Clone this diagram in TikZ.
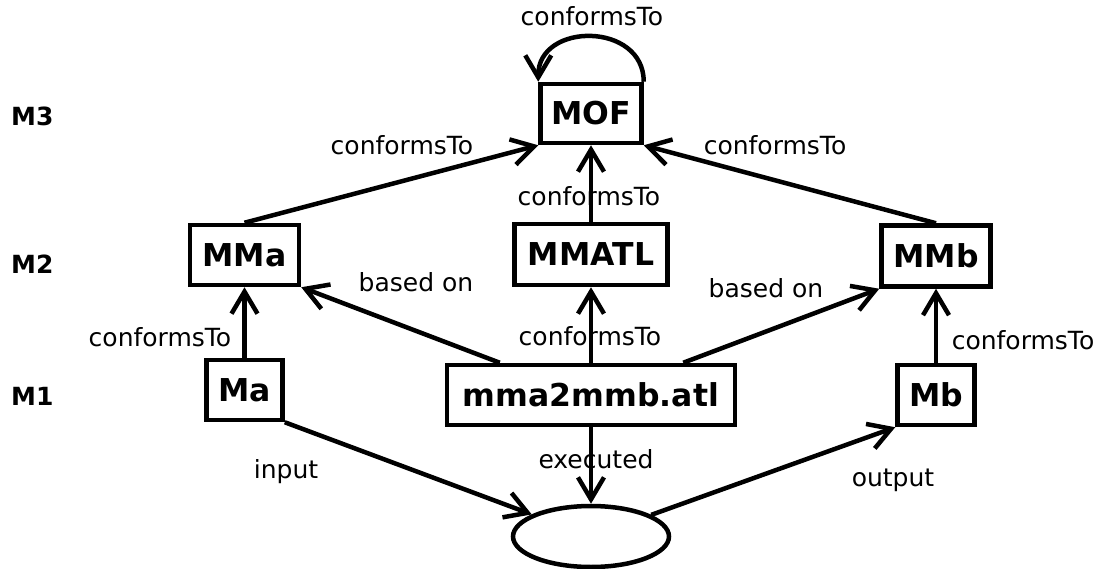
\documentclass[tikz,border=0pt]{standalone}
\usepackage{fontspec}
\setmainfont{DejaVu Sans}
\usetikzlibrary{arrows.meta,shapes.geometric}
\begin{document}
\begin{tikzpicture}[x=1pt,y=-1pt,
  box/.style={draw,line width=4.5pt,inner sep=0pt,font=\fontsize{31.5}{36}\selectfont\bfseries},
  ell/.style={draw,ellipse,line width=4.5pt,inner sep=0pt},
  lbl/.style={anchor=base,inner sep=0pt,font=\fontsize{25}{30}\selectfont},
  lvl/.style={anchor=base west,inner sep=0pt,font=\fontsize{25}{30}\selectfont\bfseries},
  arr/.style={line width=4.5pt,-{Straight Barb[length=22pt,width=26pt]}}]
\useasboundingbox (0,0) rectangle (1105,569);

% level labels
\node[lvl] (m3) at (11,126) {M3};
\node[lvl] (m2) at (11,273) {M2};
\node[lvl] (m1) at (11,405) {M1};

% nodes
\node[box,minimum width=101pt,minimum height=59pt] (mof) at (591,113.5) {MOF};
\node[box,minimum width=109pt,minimum height=60pt] (mma) at (244.5,255) {MMa};
\node[box,minimum width=153pt,minimum height=61pt] (mmatl) at (591,254.5) {MMATL};
\node[box,minimum width=109pt,minimum height=61pt] (mmb) at (936,256) {MMb};
\node[box,minimum width=76pt,minimum height=60pt] (ma) at (244.5,390) {Ma};
\node[box,minimum width=288pt,minimum height=60pt] (atl) at (591,395) {mma2mmb.atl};
\node[box,minimum width=77pt,minimum height=60pt] (mb) at (936,395) {Mb};
\node[ell,minimum width=156pt,minimum height=61pt] (exe) at (591,536.5) {};

% connectors
\draw[arr] (mof.north east) .. controls +(0,-60) and +(0,-60) .. (mof.north west);
\draw[arr] (mma.north) -- (mof.south west);
\draw[arr] (mmb.north) -- (mof.south east);
\draw[arr] (mmatl.north) -- (mof.south);
\draw[arr] (atl.north) -- (mmatl.south);
\draw[arr] ([xshift=55pt]atl.north west) -- (mma.south east);
\draw[arr] ([xshift=-54pt]atl.north east) -- (mmb.south west);
\draw[arr] (ma.north) -- (mma.south);
\draw[arr] (mb.north) -- (mmb.south);
\draw[arr] (ma.south east) -- (exe);
\draw[arr] (exe) -- (mb.south west);
\draw[arr] (atl.south) -- (exe.north);

% labels
\node[lbl] (l1) at (592,26) {conformsTo};
\node[lbl] (l2) at (402,155) {conformsTo};
\node[lbl] (l3) at (775,155) {conformsTo};
\node[lbl] (l4) at (589,206) {conformsTo};
\node[lbl] (l5) at (416,291) {based on};
\node[lbl] (l6) at (766,297) {based on};
\node[lbl] (l7) at (590,345) {conformsTo};
\node[lbl] (l8) at (160,346) {conformsTo};
\node[lbl] (l9) at (1023,349) {conformsTo};
\node[lbl] (l10) at (286,478) {input};
\node[lbl] (l11) at (596,468) {executed};
\node[lbl] (l12) at (893,486) {output};
\end{tikzpicture}
\end{document}
